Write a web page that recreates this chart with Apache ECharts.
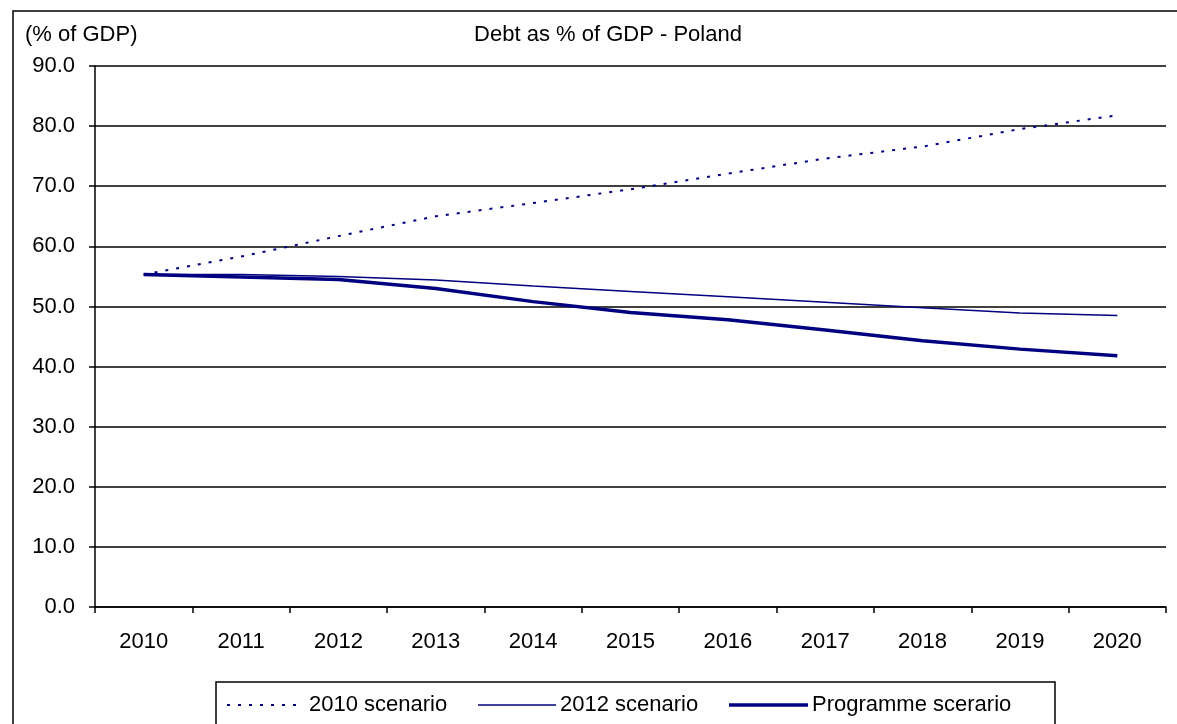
<!DOCTYPE html>
<html>
<head>
    <meta charset="UTF-8">
    <script src="https://cdn.jsdelivr.net/npm/echarts@6/dist/echarts.min.js"></script>
    <style>
        html, body { margin: 0; padding: 0; background: #fff; }
    </style>
</head>
<body>
<div id="chart" style="width: 1177px;height:724px;"></div>
<script type="text/javascript">
    // data
    var years = ['2010', '2011', '2012', '2013', '2014', '2015', '2016', '2017', '2018', '2019', '2020'];
    var scenario2010 = [55.3, 58.3, 61.7, 65.0, 67.2, 69.5, 72.1, 74.6, 76.6, 79.5, 81.8];
    var scenario2012 = [55.3, 55.3, 55.0, 54.4, 53.4, 52.5, 51.6, 50.7, 49.8, 48.9, 48.5];
    var programme = [55.3, 54.9, 54.5, 53.0, 50.8, 49.0, 47.8, 46.1, 44.3, 42.9, 41.8];
    var seriesNames = ['2010 scenario', '2012 scenario', 'Programme scerario'];

    var navy = '#000080';
    var font = '"Liberation Sans", Arial, sans-serif';
    var lineStyles = [
        { color: navy, width: 2, type: [3, 8] },
        { color: navy, width: 1.5, type: 'solid' },
        { color: navy, width: 3.5, type: 'solid' }
    ];
    // legend sample line x-range and text start
    var sampleX = [[227, 304], [478, 556], [729, 808]];
    var textLeft = [309, 560, 812];
    var legendY = 705;

    var legends = [];
    var graphics = [{
        type: 'rect',
        shape: { x: 13, y: 11, width: 1300, height: 900 },
        style: { fill: 'none', stroke: '#000', lineWidth: 1.5 },
        silent: true
    }, {
        type: 'rect',
        shape: { x: 216, y: 682, width: 839, height: 80 },
        style: { fill: 'none', stroke: '#000', lineWidth: 1.5 },
        silent: true
    }];
    for (var i = 0; i < seriesNames.length; i++) {
        legends.push({
            data: [{ name: seriesNames[i], icon: 'none' }],
            left: textLeft[i] - 5, top: 694, padding: 0,
            itemWidth: 0, itemHeight: 12,
            textStyle: { fontFamily: font, fontSize: 22, color: '#000' }
        });
        graphics.push({
            type: 'line',
            shape: { x1: sampleX[i][0], y1: legendY, x2: sampleX[i][1], y2: legendY },
            style: { stroke: navy, lineWidth: lineStyles[i].width, lineDash: lineStyles[i].type === 'solid' ? null : lineStyles[i].type },
            silent: true
        });
    }

    var myChart = echarts.init(document.getElementById('chart'));
    var option = {
        animation: false,
        backgroundColor: '#fff',
        title: [{
            text: 'Debt as % of GDP - Poland',
            left: 603,
            textAlign: 'center',
            top: 19,
            textStyle: { fontFamily: font, fontSize: 22, fontWeight: 'normal', color: '#000' }
        }, {
            text: '(% of GDP)',
            left: 20,
            top: 19,
            textStyle: { fontFamily: font, fontSize: 22, fontWeight: 'normal', color: '#000' }
        }],
        graphic: graphics,
        legend: legends,
        grid: {
            left: 95,
            right: 11,
            top: 66,
            bottom: 117,
            containLabel: false
        },
        xAxis: {
            type: 'category',
            data: years,
            boundaryGap: true,
            axisLine: { lineStyle: { color: '#000', width: 1.5 } },
            axisTick: { show: true, length: 6, alignWithLabel: false, lineStyle: { color: '#000', width: 1.5 } },
            axisLabel: { margin: 24, fontFamily: font, fontSize: 22, color: '#000' },
            splitLine: { show: false }
        },
        yAxis: {
            type: 'value',
            min: 0,
            max: 90,
            interval: 10,
            axisLine: { show: true, lineStyle: { color: '#000', width: 1.5 } },
            axisTick: { show: true, length: 6, lineStyle: { color: '#000', width: 1.5 } },
            axisLabel: {
                margin: 20, fontFamily: font, fontSize: 22, color: '#000',
                formatter: function (v) { return v.toFixed(1); }
            },
            splitLine: { show: true, lineStyle: { color: '#000', width: 1.5 } }
        },
        series: [{
            name: seriesNames[0],
            type: 'line',
            data: scenario2010,
            symbol: 'none',
            color: navy,
            lineStyle: lineStyles[0]
        }, {
            name: seriesNames[1],
            type: 'line',
            data: scenario2012,
            symbol: 'none',
            color: navy,
            lineStyle: lineStyles[1]
        }, {
            name: seriesNames[2],
            type: 'line',
            data: programme,
            symbol: 'none',
            color: navy,
            lineStyle: lineStyles[2]
        }]
    };
    myChart.setOption(option);
</script>
</body>
</html>
